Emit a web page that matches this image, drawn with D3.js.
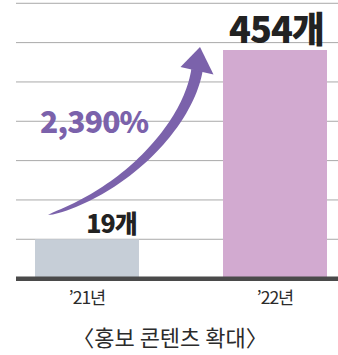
<!DOCTYPE html>
<html>
<head>
<meta charset="utf-8">
<script src="https://cdn.jsdelivr.net/npm/d3@7"></script>
<style>
  html, body { margin: 0; padding: 0; background: #fff; }
  svg { display: block; }
</style>
</head>
<body>
<div id="chart"></div>
<script>
// Promotional content count by year
const years = ["’21년", "’22년"];
const counts = [19, 454];
const valueLabels = ["19개", "454개"];
const growthLabel = "2,390%";
const title = "〈홍보 콘텐츠 확대〉";
const barColors = ["#c6ced7", "#d2aad0"];

const W = 338, H = 355;
const baseY = 276.5;          // top edge of the baseline bar
const gridStep = 39.33;
const gridCount = 7;

const svg = d3.select("#chart").append("svg")
  .attr("width", W).attr("height", H);

const x = d3.scaleBand().domain(years).range([35, 327]).paddingInner(0.447).paddingOuter(0);

// the small bar is drawn enlarged, so the scale is piecewise
const y = d3.scaleLinear().domain([0, counts[0], counts[1]]).range([baseY, 239.3, 50]);

// horizontal guide lines
svg.append("g").selectAll("line")
  .data(d3.range(1, gridCount + 1))
  .join("line")
  .attr("x1", 16).attr("x2", W)
  .attr("y1", k => baseY + 2.1 - k * gridStep)
  .attr("y2", k => baseY + 2.1 - k * gridStep)
  .attr("stroke", "#a9a9a9").attr("stroke-width", 1);

// bars
svg.append("g").selectAll("rect")
  .data(counts)
  .join("rect")
  .attr("x", (d, i) => x(years[i]))
  .attr("width", x.bandwidth())
  .attr("y", d => y(d))
  .attr("height", d => baseY - y(d) + 1)
  .attr("fill", (d, i) => barColors[i]);

// baseline
svg.append("rect")
  .attr("x", 16).attr("width", W - 16)
  .attr("y", baseY).attr("height", 4.5)
  .attr("fill", "#4a4a4a");

// x-axis labels
const xAxis = d3.axisBottom(x).tickSize(0).tickPadding(0);
const gx = svg.append("g").attr("transform", `translate(0,${baseY + 27.5})`).call(xAxis);
gx.select(".domain").remove();
gx.selectAll("text")
  .attr("dy", 0)
  .style("font-family", "'Noto Sans CJK KR', sans-serif")
  .style("font-size", "17.5px")
  .style("letter-spacing", "-1px")
  .attr("fill", "#2b2b2b");

// value labels
const labelFont = "'Noto Sans CJK KR', sans-serif";
svg.append("text")
  .attr("x", x(years[0]) + x.bandwidth() / 2 + 24.5)
  .attr("y", y(counts[0]) - 6.5)
  .attr("text-anchor", "middle")
  .style("font-family", labelFont).style("font-weight", 900)
  .style("font-size", "25px").style("letter-spacing", "-1px")
  .attr("fill", "#222")
  .text(valueLabels[0]);

svg.append("text")
  .attr("x", x(years[1]) + x.bandwidth() / 2 + 1.5)
  .attr("y", y(counts[1]) - 7)
  .attr("text-anchor", "middle")
  .style("font-family", labelFont).style("font-weight", 900)
  .style("font-size", "36px").style("letter-spacing", "-1px")
  .attr("fill", "#222")
  .text(valueLabels[1]);

// growth arrow: tapered curved shaft plus a triangular head
const arrowColor = "#7b62ab";
const P = [[48, 215], [125, 192], [188, 125], [197, 70]];
function bez(t) {
  const u = 1 - t;
  const a = u * u * u, b = 3 * u * u * t, c = 3 * u * t * t, d = t * t * t;
  return [a * P[0][0] + b * P[1][0] + c * P[2][0] + d * P[3][0],
          a * P[0][1] + b * P[1][1] + c * P[2][1] + d * P[3][1]];
}
function bezD(t) {
  const u = 1 - t;
  return [3 * u * u * (P[1][0] - P[0][0]) + 6 * u * t * (P[2][0] - P[1][0]) + 3 * t * t * (P[3][0] - P[2][0]),
          3 * u * u * (P[1][1] - P[0][1]) + 6 * u * t * (P[2][1] - P[1][1]) + 3 * t * t * (P[3][1] - P[2][1])];
}
const left = [], right = [];
d3.range(0, 1.0001, 0.02).forEach(t => {
  const [px, py] = bez(t);
  const [dx, dy] = bezD(t);
  const len = Math.hypot(dx, dy);
  const nx = -dy / len, ny = dx / len;
  const w = 11.5 * Math.pow(t, 0.45) / 2;
  left.push([px + nx * w, py + ny * w]);
  right.push([px - nx * w, py - ny * w]);
});
svg.append("path")
  .attr("d", d3.line()(left.concat(right.reverse())) + "Z")
  .attr("fill", arrowColor);
svg.append("path")
  .attr("d", d3.line()([[200, 47], [180.5, 67], [213.5, 74.5]]) + "Z")
  .attr("fill", arrowColor);

svg.append("text")
  .attr("x", 40).attr("y", 132.5)
  .style("font-family", labelFont).style("font-weight", 900)
  .style("font-size", "30px").style("letter-spacing", "-0.8px")
  .attr("fill", arrowColor)
  .text(growthLabel);

// caption
svg.append("text")
  .attr("x", 170).attr("y", 346)
  .attr("text-anchor", "middle")
  .style("font-family", labelFont)
  .style("font-size", "22px")
  .attr("fill", "#2b2b2b")
  .text(title);
</script>
</body>
</html>
